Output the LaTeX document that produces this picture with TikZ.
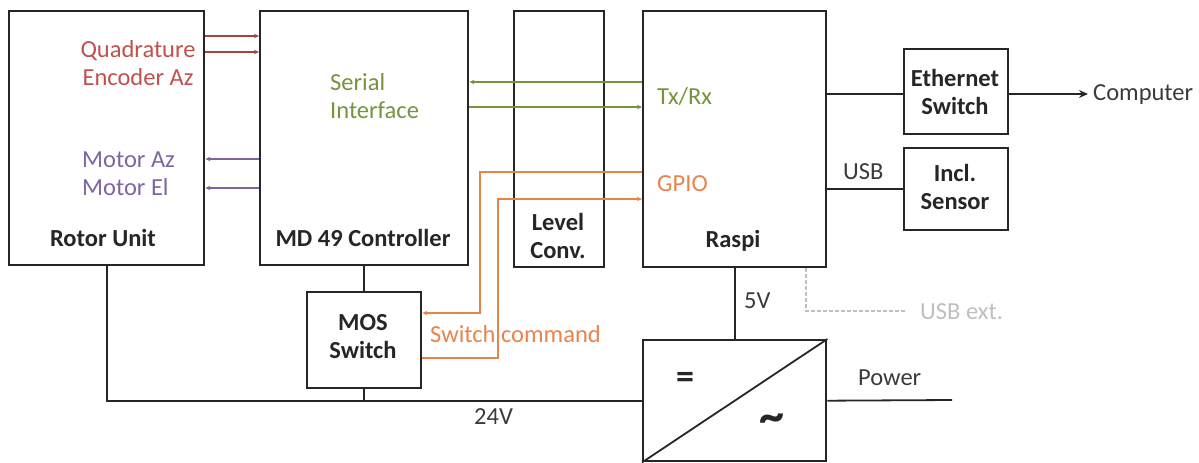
\documentclass[tikz,border=0pt]{standalone}
\usepackage{fontspec}
\setmainfont{Carlito}
\usetikzlibrary{arrows.meta}
\definecolor{cred}{HTML}{C0504D}
\definecolor{cpurple}{HTML}{8064A2}
\definecolor{cgreen}{HTML}{77933C}
\definecolor{corange}{HTML}{E8844A}
\definecolor{cgray}{HTML}{BFBFBF}
\definecolor{ctext}{HTML}{3A3A3A}
\tikzset{
  box/.style={draw=black!85, line width=2.4pt, inner sep=0pt, anchor=north west},
  lbl/.style={font=\fontsize{24.5}{29}\selectfont, inner sep=0pt, text=ctext},
  blbl/.style={font=\fontsize{24.5}{29}\selectfont\bfseries, inner sep=0pt, text=black!85, align=center},
  wire/.style={line width=1.8pt, draw=black!85},
  sig/.style={line width=1.8pt},
  tip/.style={-{Stealth[length=5pt,width=4.5pt]}},
}
\begin{document}
\begin{tikzpicture}[x=1pt,y=-1pt]
\useasboundingbox (0,0) rectangle (1199,463);
% boxes
\node[box, minimum width=195pt, minimum height=254pt] (rotor) at (8,10) {};
\node[box, minimum width=208pt, minimum height=254pt] (md) at (259,10) {};
\node[box, minimum width=90pt, minimum height=256pt] (lvl) at (513,10) {};
\node[box, minimum width=183pt, minimum height=256pt] (raspi) at (642,10) {};
\node[box, minimum width=104pt, minimum height=85pt] (eth) at (903,48) {};
\node[box, minimum width=104pt, minimum height=82pt] (sens) at (903,147) {};
\node[box, minimum width=114pt, minimum height=96pt] (mos) at (306,291) {};
\node[box, minimum width=183pt, minimum height=121pt] (conv) at (642,339) {};
\draw[wire] (conv.south west) -- (conv.north east);
% bold labels
\node[blbl] (trotor) at (103,238) {Rotor Unit};
\node[blbl] (tmd) at (363,238) {MD 49 Controller};
\node[blbl] (tlvl) at (558,236) {Level\\[-1pt]Conv.};
\node[blbl] (traspi) at (733,241) {Raspi};
\node[blbl] (teth) at (955,92) {Ethernet\\[-1pt]Switch};
\node[blbl] (tsens) at (955,187) {Incl.\\[-1pt]Sensor};
\node[blbl] (tmos) at (363,337) {MOS\\[-1pt]Switch};
\node[inner sep=0pt, text=black!85, font=\fontsize{36}{36}\selectfont\bfseries] (teq) at (685,380) {=};
\node[inner sep=0pt, text=black!85, font=\fontsize{50}{50}\selectfont\bfseries] (tac) at (772,423) {\textasciitilde};
% colored labels
\node[lbl, text=cred, align=center] (tquad) at (138,63) {Quadrature\\[-1pt]Encoder Az};
\node[lbl, text=cpurple, align=left, anchor=west] (tmot) at (82,174) {Motor Az\\[-1pt]Motor El};
\node[lbl, text=cgreen, align=left, anchor=west] (tser) at (330,96) {Serial\\[-1pt]Interface};
\node[lbl, text=cgreen, anchor=west] (ttx) at (657,97) {Tx/Rx};
\node[lbl, text=corange, anchor=west] (tgpio) at (657,184) {GPIO};
\node[lbl, text=corange, anchor=west] (tsw) at (430,334) {Switch command};
% black labels
\node[lbl, anchor=west] (tcomp) at (1093,95) {Computer};
\node[lbl, anchor=west] (tusb) at (843,172) {USB};
\node[lbl, anchor=west] (t5v) at (744,301) {5V};
\node[lbl, anchor=west] (tpow) at (858,378) {Power};
\node[lbl, anchor=west] (t24) at (474,417) {24V};
\node[lbl, text=cgray, anchor=west] (tusbx) at (920,312) {USB ext.};
% red encoder arrows
\draw[sig, draw=cred!85!black, tip] (rotor.east |- 0,36) -- (md.west |- 0,36);
\draw[sig, draw=cred!85!black, tip] (rotor.east |- 0,52) -- (md.west |- 0,52);
% purple motor arrows
\draw[sig, draw=cpurple, tip] (md.west |- 0,159) -- (rotor.east |- 0,159);
\draw[sig, draw=cpurple, tip] (md.west |- 0,188) -- (rotor.east |- 0,188);
% green serial
\draw[sig, draw=cgreen, tip] (raspi.west |- 0,82) -- (md.east |- 0,82);
\draw[sig, draw=cgreen, tip] (md.east |- 0,107) -- (raspi.west |- 0,107);
% orange gpio
\draw[sig, draw=corange, tip] (raspi.west |- 0,172) -- (480,172) -- (480,313) -- (mos.east |- 0,313);
\draw[sig, draw=corange, tip] (mos.east |- 0,358) -- (498,358) -- (498,199) -- (raspi.west |- 0,199);
% power wiring
\coordinate (j24) at (rotor.south |- conv.west);
\draw[wire] (rotor.south) -- (j24) -- (conv.west);
\draw[wire] (md.south) -- (mos.north);
\draw[wire] (mos.south) -- (mos.south |- conv.west);
\draw[wire] (raspi.south) -- (conv.north);
\coordinate (pend) at (952,400);
\draw[wire] (conv.east) -- (pend);
% usb ext
\coordinate (ux1) at (806,311);
\coordinate (ux2) at (905,311);
\draw[line width=1.4pt, draw=cgray, dashed, dash pattern=on 4pt off 2pt] (raspi.south -| ux1) -- (ux1) -- (ux2);
% ethernet / usb
\draw[wire] (raspi.east |- 0,94) -- (eth.west |- 0,94);
\coordinate (carr) at (1088,94);
\draw[wire, -{Stealth[length=9pt,width=8pt]}] (eth.east |- carr) -- (carr);
\draw[wire] (raspi.east |- sens.west) -- (sens.west);
\end{tikzpicture}
\end{document}
